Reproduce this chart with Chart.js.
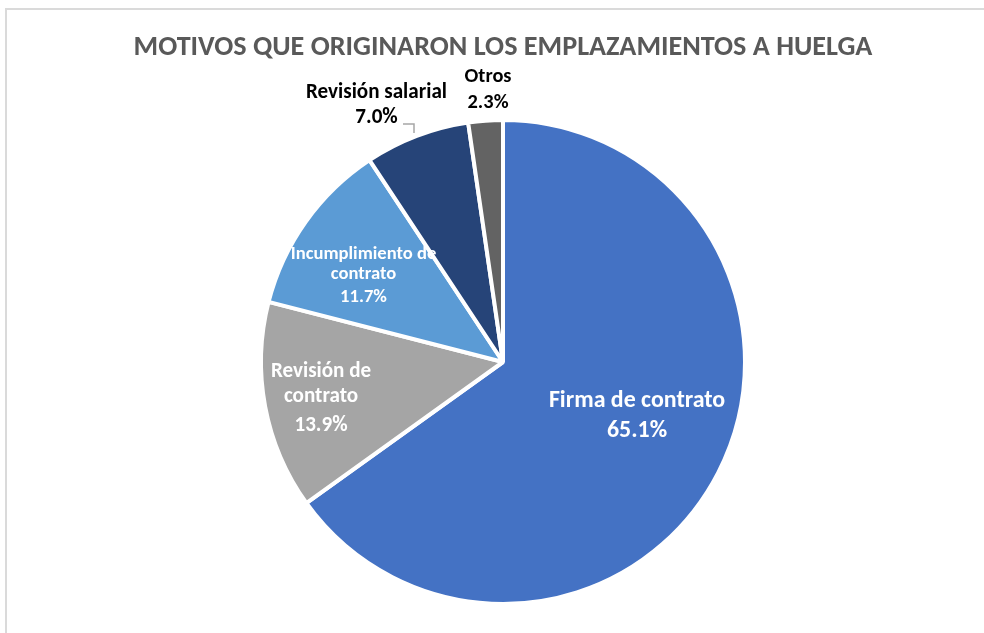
<!DOCTYPE html>
<html>
<head>
<meta charset="utf-8">
<script src="https://cdn.jsdelivr.net/npm/chart.js@4/dist/chart.umd.min.js"></script>
<style>
  html, body { margin: 0; padding: 0; background: #fff; overflow: hidden; }
  #wrap { position: relative; width: 984px; height: 633px; }
  #frame { position: absolute; left: 5px; top: 8px; width: 1000px; height: 700px;
           border: 2px solid #dadada; box-sizing: border-box; }
  #canvas { position: absolute; left: 0; top: 0; }
</style>
</head>
<body>
<div id="wrap">
  <div id="frame"></div>
  <canvas id="canvas" width="984" height="633"></canvas>
</div>
<script>
var titleText = 'MOTIVOS QUE ORIGINARON LOS EMPLAZAMIENTOS A HUELGA';
var categories = ['Firma de contrato', 'Revisión de contrato', 'Incumplimiento de contrato', 'Revisión salarial', 'Otros'];
var shares = [65.1, 13.9, 11.7, 7.0, 2.3];
var labelLines = [['Firma de contrato'], ['Revisión de', 'contrato'], ['Incumplimiento de', 'contrato'], ['Revisión salarial'], ['Otros']];

var sliceColors = ['#4472C4', '#A5A5A5', '#5B9BD5', '#264478', '#636363'];
var FONT = 'Carlito, Lato, sans-serif';

var measure = document.createElement('canvas').getContext('2d');
function fitSize(text, width) {
    measure.font = 'bold 20px ' + FONT;
    return 20 * width / measure.measureText(text).width;
}

// where each label sits, relative to the pie centre (baselines per line)
var labelPos = [
    { dx: 134,    base: [45, 75],          fit: 176, color: '#fff' },
    { dx: -182,   base: [15, 40, 69],      fit: 100, color: '#fff' },
    { dx: -139.5, base: [-103, -83, -60],  fit: 146, color: '#fff' },
    { dx: -126.5, base: [-264, -239],      fit: 141, color: '#000' },
    { dx: -15,    base: [-280, -254],      fit: 47,  color: '#000' }
];

var sliceLabels = {
    id: 'sliceLabels',
    afterDatasetsDraw: function (chart) {
        var ctx = chart.ctx;
        var arc = chart.getDatasetMeta(0).data[0];
        var cx = arc.x, cy = arc.y;
        ctx.save();

        // leader line for "Revisión salarial"
        ctx.strokeStyle = '#a6a6a6';
        ctx.lineWidth = 1.5;
        ctx.beginPath();
        ctx.moveTo(cx - 100, cy - 238);
        ctx.lineTo(cx - 89, cy - 238);
        ctx.lineTo(cx - 89, cy - 229);
        ctx.stroke();

        ctx.textAlign = 'center';
        ctx.textBaseline = 'alphabetic';
        labelPos.forEach(function (p, i) {
            var lines = labelLines[i].concat([shares[i].toFixed(1) + '%']);
            var size = fitSize(lines[0], p.fit);
            ctx.font = 'bold ' + size.toFixed(1) + 'px ' + FONT;
            ctx.fillStyle = p.color;
            lines.forEach(function (t, j) {
                ctx.fillText(t, cx + p.dx, cy + p.base[j]);
            });
        });
        ctx.restore();
    }
};

var titleSize = fitSize(titleText, 739);

var config = {
    type: 'pie',
    data: {
        labels: categories,
        datasets: [{
            data: shares,
            backgroundColor: sliceColors,
            borderColor: '#fff',
            borderWidth: 4,
            hoverOffset: 0
        }]
    },
    options: {
        responsive: false,
        animation: false,
        events: [],
        layout: { padding: { left: 113, right: 91, top: 0, bottom: 27 } },
        plugins: {
            legend: { display: false },
            tooltip: { enabled: false },
            title: {
                display: true,
                text: titleText,
                color: '#595959',
                font: { family: FONT, size: titleSize, weight: 'bold', lineHeight: 1.2 },
                padding: { top: 31, bottom: 118 - 31 - titleSize * 1.2 }
            }
        }
    },
    plugins: [sliceLabels]
};

var chart = new Chart(document.getElementById('canvas').getContext('2d'), config);
</script>
</body>
</html>
